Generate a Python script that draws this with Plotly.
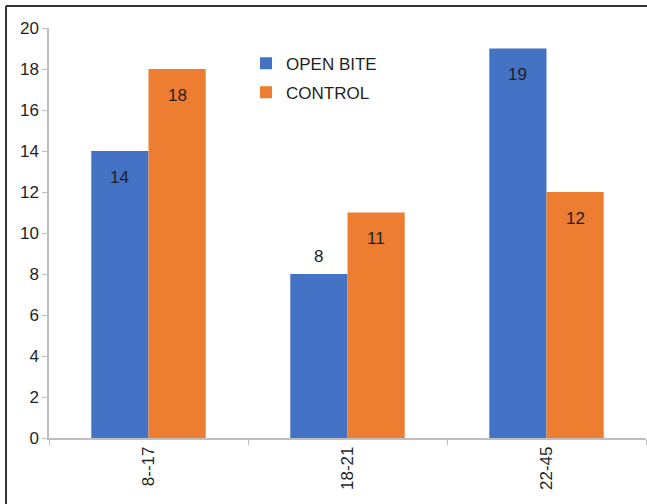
import plotly.graph_objects as go

categories = ["8--17", "18-21", "22-45"]
open_bite = [14, 8, 19]
control = [18, 11, 12]
series_names = ["OPEN BITE", "CONTROL"]
colors = ["#4472C4", "#ED7D31"]
y_ticks = list(range(0, 21, 2))

FONT = "Liberation Sans, Arial, sans-serif"
TXT = "#1f1f1f"
FS = 17

fig = go.Figure()
for i, (name, vals) in enumerate(zip(series_names, [open_bite, control])):
    fig.add_trace(go.Bar(
        x=categories, y=vals, name=name, marker_color=colors[i],
        marker_line_width=0, legendgroup=name,
    ))

bargap = 0.425
half = (1 - bargap) / 4
for j, (name, vals) in enumerate(zip(series_names, [open_bite, control])):
    sign = -1 if j == 0 else 1
    for i, v in enumerate(vals):
        inside = v >= 10
        fig.add_annotation(
            x=i + sign * half, y=v, xref="x", yref="y",
            text=str(v), showarrow=False,
            yshift=-26 if inside else 18,
            font=dict(family=FONT, size=FS, color=TXT),
        )

# border (top and left lines)
fig.add_shape(type="line", xref="paper", yref="paper",
              x0=-0.072, x1=1.2, y0=1.0537, y1=1.0537,
              line=dict(color="#333333", width=2))
fig.add_shape(type="line", xref="paper", yref="paper",
              x0=-0.072, x1=-0.072, y0=1.0537, y1=-0.3,
              line=dict(color="#333333", width=2))

fig.update_layout(
    width=647, height=504,
    margin=dict(l=49, r=1, t=28, b=66),
    paper_bgcolor="white", plot_bgcolor="white",
    barmode="group", bargap=bargap, bargroupgap=0,
    font=dict(family=FONT, size=FS, color=TXT),
    showlegend=True,
    legend=dict(x=0.33, y=0.957, xanchor="left", yanchor="top",
                bgcolor="rgba(0,0,0,0)", font=dict(size=FS, color=TXT),
                traceorder="grouped", tracegroupgap=4, itemwidth=30),
    xaxis=dict(
        type="category", tickangle=-90, showline=True,
        linecolor="#BFBFBF", linewidth=1.5, ticks="outside",
        tickson="boundaries", ticklen=5, tickcolor="#BFBFBF",
        showgrid=False, tickfont=dict(size=FS, color=TXT),
    ),
    yaxis=dict(
        range=[0, 20], tickvals=y_ticks, showline=True,
        linecolor="#BFBFBF", linewidth=1.5, ticks="outside",
        ticklen=5, tickcolor="#BFBFBF", showgrid=False, zeroline=False,
        tickfont=dict(size=FS, color=TXT),
    ),
)

fig.write_html("out.html")
